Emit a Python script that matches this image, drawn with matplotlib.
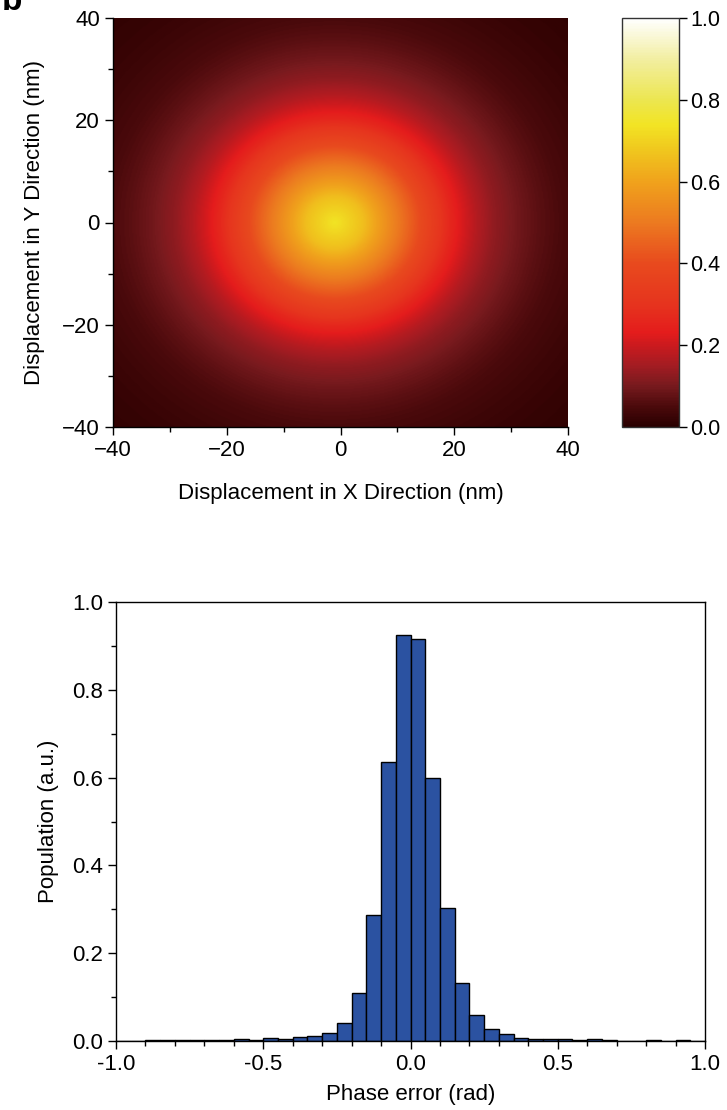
import numpy as np
import matplotlib
matplotlib.use("Agg")
import matplotlib.pyplot as plt
from matplotlib.colors import LinearSegmentedColormap
from matplotlib.ticker import MultipleLocator

plt.rcParams['font.family'] = ['Liberation Sans', 'DejaVu Sans']
plt.rcParams['font.size'] = 16
plt.rcParams['axes.linewidth'] = 1.0

# ---------------- data ----------------
# radial intensity profile of the focal spot (read from colour map)
radius_nm = [0, 5, 10, 15, 20, 22, 25, 28, 32, 36, 40, 45, 50, 57]
intensity = [0.74, 0.66, 0.53, 0.40, 0.27, 0.225, 0.17, 0.13, 0.095, 0.068, 0.048, 0.032, 0.021, 0.011]
spot_center = (-1.0, 0.0)

# histogram of phase error: bin edges -1..1 step 0.05
bin_left_edges = [round(-1.0 + 0.05 * i, 2) for i in range(40)]
population = [0.001, 0.001, 0.0015, 0.0015, 0.0015, 0.003, 0.003, 0.002, 0.004, 0.002,
              0.007, 0.005, 0.008, 0.011, 0.018, 0.042, 0.110, 0.286, 0.635, 0.924,
              0.916, 0.600, 0.302, 0.131, 0.059, 0.027, 0.017, 0.0076, 0.005, 0.004,
              0.004, 0.002, 0.004, 0.0015, 0.001, 0.001, 0.003, 0.001, 0.0015, 0.001]

hm_ticks = [-40, -20, 0, 20, 40]
cb_ticks = [0.0, 0.2, 0.4, 0.6, 0.8, 1.0]
hist_xticks = [-1.0, -0.5, 0.0, 0.5, 1.0]
hist_xticklabels = ["-1.0", "-0.5", "0.0", "0.5", "1.0"]
hist_yticks = [0.0, 0.2, 0.4, 0.6, 0.8, 1.0]

# ---------------- colormap ----------------
cmap = LinearSegmentedColormap.from_list("spot", [
    (0.00, "#2a0000"), (0.05, "#4c0a0c"), (0.10, "#781a1e"), (0.15, "#a41c22"),
    (0.20, "#cc1a1e"), (0.23, "#e41c1c"), (0.30, "#e6341e"), (0.40, "#e84a1e"),
    (0.50, "#ec7a20"), (0.60, "#f0a21c"), (0.68, "#f0c81e"), (0.74, "#f2e424"),
    (0.80, "#ece650"), (0.90, "#f2eea0"), (1.00, "#ffffff")])

W, H = 727, 1110
fig = plt.figure(figsize=(W / 100, H / 100), dpi=100)

def frac(l, t, r, b):
    return [l / W, 1 - b / H, (r - l) / W, (b - t) / H]

# ---------------- heatmap ----------------
ax1 = fig.add_axes(frac(113, 18, 568, 427))
x = np.linspace(-40, 40, 401)
X, Y = np.meshgrid(x, x)
R = np.hypot(X - spot_center[0], Y - spot_center[1])
Z = np.interp(R, radius_nm, intensity)
im = ax1.imshow(Z, extent=[-40, 40, -40, 40], origin='lower', cmap=cmap,
                vmin=0, vmax=1, aspect='auto', interpolation='bilinear')
ax1.set_xticks(hm_ticks)
ax1.set_yticks(hm_ticks)
ax1.xaxis.set_minor_locator(MultipleLocator(10))
ax1.yaxis.set_minor_locator(MultipleLocator(10))
ax1.tick_params(which='major', direction='out', length=6, width=1)
ax1.tick_params(which='minor', direction='out', length=3.5, width=1)
for s in ['top', 'right']:
    ax1.spines[s].set_visible(False)
ax1.set_xlabel("Displacement in X Direction (nm)", labelpad=16)
ax1.set_ylabel("Displacement in Y Direction (nm)", labelpad=12)

cax = fig.add_axes(frac(622, 18, 679, 427))
cb = fig.colorbar(im, cax=cax, ticks=cb_ticks)
cb.ax.set_yticklabels([f"{v:.1f}" for v in cb_ticks])
cb.ax.tick_params(direction='out', length=6, width=1, pad=2, labelsize=15.5)
cb.outline.set_linewidth(1.0)
cb.outline.set_edgecolor("#333333")

# ---------------- histogram ----------------
ax2 = fig.add_axes(frac(116, 602, 705, 1041))
ax2.bar(bin_left_edges, population, width=0.05, align='edge',
        color="#2b52a1", edgecolor="black", linewidth=1.0)
ax2.set_xlim(-1.0, 1.0)
ax2.set_ylim(0.0, 1.0)
ax2.set_xticks(hist_xticks)
ax2.set_xticklabels(hist_xticklabels)
ax2.set_yticks(hist_yticks)
ax2.set_yticklabels([f"{v:.1f}" for v in hist_yticks])
ax2.xaxis.set_minor_locator(MultipleLocator(0.1))
ax2.yaxis.set_minor_locator(MultipleLocator(0.1))
ax2.tick_params(which='major', direction='out', length=6, width=1)
ax2.tick_params(which='minor', direction='out', length=3.5, width=1)
ax2.set_xlabel("Phase error (rad)", labelpad=6)
ax2.set_ylabel("Population (a.u.)", labelpad=9)

fig.text(2 / W, 1 - 10 / H, "b", fontsize=24, fontweight='bold', ha='left', va='baseline')

fig.savefig("out.png", dpi=100)
